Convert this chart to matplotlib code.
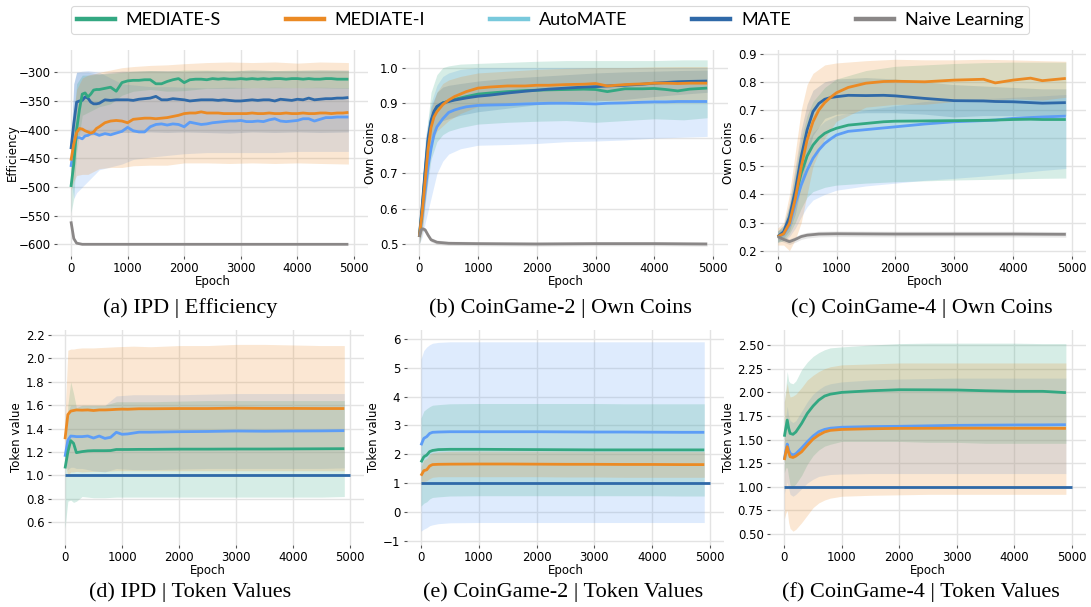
import numpy as np
import matplotlib
matplotlib.use("Agg")
import matplotlib.pyplot as plt
from matplotlib.lines import Line2D

# ---------------- data ----------------
methods = ["MEDIATE-S", "MEDIATE-I", "AutoMATE", "MATE", "Naive Learning"]
x_ticks = [0, 1000, 2000, 3000, 4000, 5000]

# (a) IPD | Efficiency
ep_a = [0, 50, 100, 150, 200, 250, 300, 350, 400, 450, 500, 600, 700, 800, 900, 1000, 1100, 1200, 1300, 1400,
        1500, 1600, 1700, 1800, 1900, 2000, 2100, 2200, 2300, 2400, 2500, 2600, 2700, 2800, 2900, 3000, 3100,
        3200, 3300, 3400, 3500, 3600, 3700, 3800, 3900, 4000, 4100, 4200, 4300, 4400, 4500, 4600, 4700, 4800, 4900]
a_S = [-500, -460, -400, -365, -338, -336, -343, -338, -331, -330, -330, -328, -326, -333, -318, -315, -314, -314,
       -313, -313, -320, -320, -316, -313, -311, -318, -313, -312, -312, -313, -311, -312, -311, -312, -312, -311,
       -312, -311, -312, -311, -312, -311, -311, -312, -311, -311, -312, -311, -312, -312, -311, -311, -312, -312, -312]
a_I = [-454, -425, -405, -398, -399, -402, -404, -406, -404, -398, -395, -388, -385, -384, -385, -388, -382, -381,
       -380, -380, -381, -380, -379, -377, -375, -372, -371, -371, -369, -371, -371, -371, -372, -372, -372, -372,
       -372, -371, -372, -372, -371, -372, -372, -371, -372, -372, -371, -372, -372, -371, -371, -372, -371, -371, -370]
a_Auto = [-465, -430, -414, -414, -416, -411, -410, -407, -406, -408, -410, -407, -409, -406, -403, -396, -402, -404,
          -404, -395, -391, -390, -392, -390, -391, -395, -387, -389, -391, -390, -388, -387, -386, -385, -385, -384,
          -386, -386, -385, -386, -383, -381, -385, -386, -385, -384, -381, -381, -385, -382, -379, -379, -378, -378, -378]
a_MATE = [-434, -390, -352, -350, -349, -343, -345, -352, -355, -355, -354, -348, -349, -348, -348, -348, -349, -347,
          -346, -345, -342, -348, -348, -346, -347, -348, -350, -349, -348, -348, -348, -349, -348, -349, -350, -350,
          -349, -348, -349, -348, -348, -350, -347, -348, -349, -347, -348, -345, -348, -347, -346, -346, -345, -345, -344]
ep_a_naive = [0, 50, 100, 150, 200, 300, 500, 1000, 2000, 3000, 4000, 4900]
a_Naive = [-560, -590, -598, -599, -600, -600, -600, -600, -600, -600, -600, -600]

epb_a = [0, 50, 100, 200, 300, 500, 700, 900, 1100, 1400, 1700, 2000, 2400, 2800, 3200, 3600, 4000, 4400, 4900]
a_S_hi = [-470, -380, -320, -305, -305, -303, -302, -300, -298, -297, -298, -296, -296, -297, -296, -297, -296, -296, -297]
a_S_lo = [-545, -520, -440, -375, -370, -360, -355, -340, -333, -330, -333, -332, -328, -328, -327, -327, -327, -327, -328]
a_I_hi = [-430, -370, -330, -310, -305, -300, -296, -292, -290, -288, -287, -285, -283, -282, -283, -282, -284, -282, -283]
a_I_lo = [-505, -490, -480, -478, -478, -468, -466, -466, -463, -462, -462, -458, -458, -459, -458, -459, -458, -459, -460]
a_Auto_hi = [-440, -320, -300, -298, -297, -300, -310, -320, -322, -325, -325, -326, -327, -326, -327, -326, -327, -326, -327]
a_Auto_lo = [-490, -520, -510, -500, -490, -470, -465, -460, -452, -448, -445, -442, -440, -440, -440, -440, -438, -438, -438]
a_MATE_hi = [-420, -320, -300, -300, -300, -303, -300, -298, -298, -297, -297, -298, -297, -298, -296, -297, -297, -296, -296]
a_MATE_lo = [-450, -420, -410, -410, -410, -408, -405, -405, -405, -404, -405, -404, -405, -406, -404, -405, -404, -405, -404]

# (b) CoinGame-2 | Own Coins
ep_b = [0, 50, 100, 150, 200, 250, 300, 400, 500, 600, 700, 800, 1000, 1200, 1500, 1800, 2000, 2200, 2500, 2800,
        3000, 3200, 3500, 3800, 4000, 4200, 4400, 4600, 4900]
b_S = [0.52, 0.60, 0.70, 0.79, 0.845, 0.872, 0.888, 0.900, 0.905, 0.910, 0.914, 0.918, 0.925, 0.928, 0.932, 0.935,
       0.936, 0.937, 0.938, 0.939, 0.938, 0.932, 0.940, 0.940, 0.941, 0.938, 0.934, 0.939, 0.942]
b_I = [0.52, 0.59, 0.68, 0.77, 0.83, 0.86, 0.875, 0.895, 0.908, 0.918, 0.925, 0.932, 0.942, 0.945, 0.948, 0.948,
       0.950, 0.950, 0.952, 0.953, 0.955, 0.948, 0.952, 0.954, 0.956, 0.956, 0.955, 0.956, 0.956]
b_Auto = [0.52, 0.58, 0.65, 0.72, 0.77, 0.81, 0.832, 0.855, 0.873, 0.880, 0.885, 0.889, 0.893, 0.894, 0.895, 0.897,
          0.898, 0.899, 0.899, 0.898, 0.897, 0.899, 0.900, 0.902, 0.903, 0.903, 0.904, 0.904, 0.904]
b_MATE = [0.52, 0.61, 0.71, 0.80, 0.85, 0.876, 0.890, 0.900, 0.904, 0.908, 0.911, 0.914, 0.919, 0.922, 0.928, 0.933,
          0.936, 0.939, 0.942, 0.945, 0.946, 0.948, 0.950, 0.953, 0.956, 0.958, 0.960, 0.961, 0.962]
ep_b_naive = [0, 30, 60, 100, 150, 200, 300, 500, 1000, 2000, 3000, 4000, 4900]
b_Naive = [0.52, 0.54, 0.543, 0.54, 0.525, 0.512, 0.505, 0.502, 0.501, 0.500, 0.501, 0.501, 0.500]

epb_b = [0, 50, 100, 200, 300, 400, 500, 700, 1000, 1500, 2000, 2500, 3000, 3500, 4000, 4500, 4900]
b_S_hi = [0.54, 0.66, 0.78, 0.93, 0.98, 1.0, 1.005, 1.01, 1.012, 1.015, 1.018, 1.02, 1.02, 1.02, 1.02, 1.022, 1.022]
b_S_lo = [0.50, 0.54, 0.62, 0.74, 0.79, 0.81, 0.82, 0.83, 0.84, 0.845, 0.848, 0.85, 0.845, 0.85, 0.855, 0.852, 0.858]
b_I_hi = [0.54, 0.65, 0.75, 0.88, 0.93, 0.955, 0.965, 0.975, 0.985, 0.99, 0.995, 0.998, 1.0, 1.0, 1.002, 1.003, 1.003]
b_I_lo = [0.50, 0.53, 0.61, 0.78, 0.82, 0.835, 0.85, 0.87, 0.89, 0.90, 0.905, 0.905, 0.908, 0.905, 0.91, 0.908, 0.91]
b_Auto_hi = [0.54, 0.66, 0.80, 0.90, 0.95, 0.975, 0.985, 0.995, 1.0, 1.0, 1.0, 1.0, 1.0, 1.0, 1.0, 1.0, 1.0]
b_Auto_lo = [0.50, 0.52, 0.56, 0.63, 0.70, 0.735, 0.755, 0.770, 0.780, 0.782, 0.785, 0.790, 0.792, 0.795, 0.800, 0.803, 0.805]
b_MATE_hi = [0.54, 0.66, 0.77, 0.89, 0.93, 0.945, 0.95, 0.955, 0.962, 0.97, 0.975, 0.98, 0.985, 0.988, 0.99, 0.992, 0.993]
b_MATE_lo = [0.50, 0.55, 0.64, 0.80, 0.84, 0.85, 0.855, 0.865, 0.875, 0.885, 0.895, 0.90, 0.905, 0.91, 0.918, 0.925, 0.93]

# (c) CoinGame-4 | Own Coins
ep_c = [0, 100, 200, 300, 400, 500, 600, 700, 800, 900, 1000, 1200, 1500, 1800, 2000, 2500, 3000, 3500, 3700, 4000,
        4300, 4500, 4900]
c_S = [0.25, 0.262, 0.309, 0.392, 0.475, 0.536, 0.575, 0.60, 0.617, 0.627, 0.635, 0.646, 0.652, 0.658, 0.660, 0.661,
       0.662, 0.663, 0.664, 0.666, 0.667, 0.666, 0.666]
c_I = [0.25, 0.26, 0.297, 0.386, 0.498, 0.593, 0.658, 0.70, 0.726, 0.745, 0.761, 0.780, 0.795, 0.801, 0.802, 0.800,
       0.806, 0.809, 0.796, 0.806, 0.813, 0.804, 0.812]
c_Auto = [0.25, 0.258, 0.291, 0.368, 0.433, 0.486, 0.528, 0.558, 0.581, 0.597, 0.611, 0.624, 0.630, 0.636, 0.640,
          0.650, 0.658, 0.662, 0.664, 0.670, 0.673, 0.675, 0.678]
c_MATE = [0.25, 0.267, 0.32, 0.415, 0.534, 0.629, 0.694, 0.723, 0.738, 0.744, 0.747, 0.752, 0.751, 0.752, 0.750,
          0.741, 0.733, 0.732, 0.730, 0.729, 0.726, 0.724, 0.726]
ep_c_naive = [0, 100, 200, 300, 400, 500, 700, 1000, 2000, 3000, 4000, 4900]
c_Naive = [0.25, 0.24, 0.232, 0.24, 0.25, 0.255, 0.259, 0.26, 0.259, 0.259, 0.259, 0.258]

epb_c = [0, 100, 200, 300, 400, 500, 600, 800, 1000, 1500, 2000, 2500, 3000, 3500, 4000, 4500, 4900]
c_S_hi = [0.27, 0.29, 0.36, 0.48, 0.60, 0.68, 0.73, 0.78, 0.81, 0.84, 0.855, 0.86, 0.865, 0.868, 0.87, 0.87, 0.87]
c_S_lo = [0.23, 0.235, 0.26, 0.30, 0.35, 0.39, 0.41, 0.425, 0.433, 0.44, 0.445, 0.448, 0.451, 0.453, 0.455, 0.457, 0.458]
c_I_hi = [0.28, 0.30, 0.40, 0.55, 0.70, 0.79, 0.83, 0.86, 0.867, 0.875, 0.880, 0.878, 0.878, 0.880, 0.878, 0.875, 0.873]
c_I_lo = [0.22, 0.22, 0.20, 0.24, 0.30, 0.40, 0.50, 0.60, 0.66, 0.71, 0.72, 0.72, 0.73, 0.73, 0.74, 0.735, 0.745]
c_Auto_hi = [0.27, 0.28, 0.33, 0.43, 0.52, 0.58, 0.62, 0.66, 0.68, 0.70, 0.715, 0.73, 0.735, 0.74, 0.745, 0.75, 0.755]
c_Auto_lo = [0.23, 0.235, 0.25, 0.28, 0.32, 0.356, 0.38, 0.40, 0.415, 0.43, 0.44, 0.45, 0.457, 0.465, 0.475, 0.485, 0.492]
c_MATE_hi = [0.27, 0.29, 0.37, 0.50, 0.63, 0.72, 0.77, 0.80, 0.81, 0.815, 0.81, 0.80, 0.79, 0.785, 0.78, 0.775, 0.775]
c_MATE_lo = [0.23, 0.245, 0.27, 0.33, 0.43, 0.53, 0.61, 0.67, 0.685, 0.69, 0.69, 0.685, 0.675, 0.68, 0.68, 0.675, 0.68]

# (d) IPD | Token Values
ep_d = [0, 50, 100, 150, 200, 300, 400, 500, 600, 700, 800, 900, 1000, 1100, 1300, 1500, 2000, 2500, 3000, 3500,
        4000, 4500, 4900]
d_S = [1.06, 1.20, 1.298, 1.275, 1.195, 1.204, 1.210, 1.212, 1.212, 1.212, 1.213, 1.222, 1.222, 1.222, 1.223, 1.223,
       1.225, 1.225, 1.226, 1.226, 1.227, 1.228, 1.229]
d_I = [1.31, 1.52, 1.55, 1.555, 1.56, 1.558, 1.56, 1.555, 1.56, 1.56, 1.562, 1.565, 1.567, 1.566, 1.57, 1.57, 1.572,
       1.572, 1.575, 1.573, 1.573, 1.572, 1.572]
d_Auto = [1.16, 1.30, 1.337, 1.335, 1.332, 1.332, 1.337, 1.32, 1.337, 1.317, 1.326, 1.369, 1.352, 1.355, 1.37, 1.37,
          1.374, 1.376, 1.38, 1.378, 1.38, 1.381, 1.383]
ep_mate_tok = [0, 5000]
mate_tok = [1.0, 1.0]

epb_d = [0, 50, 100, 150, 200, 300, 500, 700, 900, 1200, 1500, 2000, 2500, 3000, 3500, 4000, 4500, 4900]
d_S_hi = [1.1, 1.6, 1.80, 1.70, 1.58, 1.60, 1.60, 1.60, 1.63, 1.63, 1.63, 1.635, 1.64, 1.64, 1.64, 1.64, 1.64, 1.64]
d_S_lo = [0.55, 0.78, 0.79, 0.77, 0.78, 0.82, 0.81, 0.81, 0.815, 0.815, 0.815, 0.815, 0.815, 0.815, 0.815, 0.815, 0.815, 0.82]
d_I_hi = [1.5, 2.07, 2.08, 2.08, 2.085, 2.09, 2.09, 2.095, 2.10, 2.105, 2.10, 2.11, 2.11, 2.12, 2.12, 2.115, 2.11, 2.11]
d_I_lo = [1.10, 1.0, 1.03, 1.03, 1.035, 1.03, 1.035, 1.035, 1.04, 1.04, 1.04, 1.04, 1.04, 1.04, 1.04, 1.04, 1.04, 1.04]
d_Auto_hi = [1.2, 1.55, 1.60, 1.60, 1.60, 1.60, 1.60, 1.60, 1.68, 1.69, 1.69, 1.69, 1.695, 1.70, 1.70, 1.70, 1.70, 1.70]
d_Auto_lo = [1.1, 1.05, 1.07, 1.07, 1.06, 1.06, 1.04, 1.03, 1.06, 1.05, 1.05, 1.055, 1.06, 1.06, 1.06, 1.06, 1.06, 1.065]

# (e) CoinGame-2 | Token Values
ep_e = [0, 50, 100, 150, 200, 300, 500, 1000, 1500, 2000, 2500, 3000, 3500, 4000, 4500, 4900]
e_S = [1.72, 1.91, 1.97, 2.09, 2.13, 2.16, 2.17, 2.17, 2.165, 2.16, 2.155, 2.15, 2.15, 2.15, 2.15, 2.15]
e_I = [1.255, 1.43, 1.46, 1.59, 1.64, 1.65, 1.655, 1.66, 1.66, 1.655, 1.65, 1.65, 1.645, 1.645, 1.64, 1.64]
e_Auto = [2.31, 2.55, 2.61, 2.72, 2.76, 2.77, 2.78, 2.78, 2.78, 2.78, 2.775, 2.77, 2.77, 2.765, 2.76, 2.76]
e_S_hi = [3.25, 3.5, 3.58, 3.65, 3.7, 3.72, 3.75, 3.76, 3.76, 3.76, 3.76, 3.76, 3.75, 3.75, 3.75, 3.75]
e_S_lo = [0.2, 0.3, 0.35, 0.45, 0.5, 0.52, 0.55, 0.56, 0.56, 0.56, 0.56, 0.56, 0.56, 0.56, 0.55, 0.55]
e_I_hi = [1.55, 1.8, 1.85, 2.0, 2.05, 2.08, 2.1, 2.11, 2.11, 2.11, 2.11, 2.1, 2.1, 2.1, 2.1, 2.1]
e_I_lo = [0.95, 1.05, 1.08, 1.15, 1.2, 1.22, 1.22, 1.22, 1.22, 1.22, 1.21, 1.21, 1.2, 1.2, 1.2, 1.2]
e_Auto_hi = [5.3, 5.6, 5.72, 5.8, 5.85, 5.88, 5.9, 5.9, 5.9, 5.9, 5.9, 5.9, 5.9, 5.9, 5.9, 5.9]
e_Auto_lo = [-0.67, -0.6, -0.55, -0.48, -0.45, -0.41, -0.38, -0.37, -0.37, -0.37, -0.37, -0.37, -0.37, -0.37, -0.37, -0.37]

# (f) CoinGame-4 | Token Values
ep_f = [0, 25, 50, 75, 100, 150, 200, 300, 400, 500, 600, 700, 800, 1000, 1500, 2000, 2500, 3000, 3500, 4000, 4500, 4900]
f_S = [1.53, 1.62, 1.706, 1.62, 1.565, 1.555, 1.58, 1.67, 1.777, 1.855, 1.918, 1.96, 1.98, 1.999, 2.016, 2.027,
       2.026, 2.024, 2.016, 2.01, 2.01, 1.996]
f_I = [1.283, 1.36, 1.424, 1.36, 1.318, 1.31, 1.325, 1.37, 1.44, 1.505, 1.548, 1.58, 1.597, 1.607, 1.614, 1.618,
       1.619, 1.62, 1.62, 1.619, 1.619, 1.618]
f_Auto = [1.29, 1.38, 1.452, 1.39, 1.354, 1.336, 1.35, 1.41, 1.477, 1.537, 1.583, 1.607, 1.62, 1.63, 1.637, 1.64,
          1.645, 1.65, 1.652, 1.654, 1.655, 1.657]
f_S_hi = [1.9, 2.05, 2.22, 2.12, 2.10, 2.09, 2.12, 2.24, 2.32, 2.38, 2.42, 2.45, 2.47, 2.48, 2.5, 2.515, 2.52, 2.52,
          2.52, 2.52, 2.515, 2.515]
f_S_lo = [1.15, 1.2, 1.2, 1.1, 1.02, 1.0, 1.03, 1.12, 1.24, 1.33, 1.39, 1.43, 1.45, 1.48, 1.48, 1.48, 1.47, 1.47,
          1.46, 1.46, 1.46, 1.46]
f_I_hi = [1.9, 2.0, 2.1, 2.0, 1.95, 1.96, 1.98, 2.05, 2.13, 2.18, 2.22, 2.25, 2.27, 2.29, 2.30, 2.31, 2.31, 2.31,
          2.31, 2.31, 2.31, 2.31]
f_I_lo = [0.66, 0.72, 0.75, 0.62, 0.56, 0.53, 0.55, 0.62, 0.70, 0.78, 0.83, 0.86, 0.88, 0.9, 0.91, 0.915, 0.92, 0.92,
          0.92, 0.92, 0.92, 0.92]
f_Auto_hi = [1.65, 1.75, 1.85, 1.75, 1.7, 1.68, 1.7, 1.8, 1.9, 1.98, 2.03, 2.07, 2.09, 2.11, 2.13, 2.14, 2.145, 2.15,
             2.15, 2.15, 2.15, 2.15]
f_Auto_lo = [0.93, 1.0, 1.05, 0.98, 0.92, 0.9, 0.92, 0.98, 1.04, 1.08, 1.11, 1.12, 1.13, 1.135, 1.14, 1.14, 1.14,
             1.14, 1.14, 1.14, 1.14, 1.14]

captions = ["(a) IPD | Efficiency", "(b) CoinGame-2 | Own Coins", "(c) CoinGame-4 | Own Coins",
            "(d) IPD | Token Values", "(e) CoinGame-2 | Token Values", "(f) CoinGame-4 | Token Values"]
ylabels = ["Efficiency", "Own Coins", "Own Coins", "Token value", "Token value", "Token value"]

# ---------------- style ----------------
C_S = "#33a882"
C_I = "#eb8a24"
C_AUTO_LINE = "#5d9df6"
C_AUTO_LEG = "#78c9dc"
C_MATE = "#2f69a8"
C_NAIVE = "#8a8787"
ALPHA = 0.2

W, H = 1091, 607
fig = plt.figure(figsize=(W / 100, H / 100), dpi=100)

def add_ax(l, r, t, b):
    return fig.add_axes([l / W, 1 - b / H, (r - l) / W, (b - t) / H])

def style(ax, ylim, yticks, ylabel, ypad=2):
    ax.set_xlim(-250, 5250)
    ax.set_ylim(*ylim)
    ax.set_xticks(x_ticks)
    ax.set_yticks(yticks)
    for s in ax.spines.values():
        s.set_visible(False)
    ax.grid(True, color="#e3e3e3", lw=1.0)
    ax.set_axisbelow(True)
    ax.tick_params(labelsize=8.5, length=2.5, width=0.8, color="#555555", pad=2)
    ax.set_xlabel("Epoch", fontsize=8.5, labelpad=0)
    ax.set_ylabel(ylabel, fontsize=8.5, labelpad=ypad)

def band(ax, x, lo, hi, c):
    ax.fill_between(x, lo, hi, color=c, alpha=ALPHA, lw=0)

def line(ax, x, y, c):
    ax.plot(x, y, color=c, lw=2.0, solid_capstyle="butt")

row1 = (50, 256)
row2 = (330, 545)

# (a)
ax = add_ax(56.8, 368.2, *row1)
band(ax, epb_a, a_Auto_lo, a_Auto_hi, C_AUTO_LINE)
band(ax, epb_a, a_MATE_lo, a_MATE_hi, C_MATE)
band(ax, epb_a, a_S_lo, a_S_hi, C_S)
band(ax, epb_a, a_I_lo, a_I_hi, C_I)
line(ax, ep_a, a_Auto, C_AUTO_LINE)
line(ax, ep_a, a_MATE, C_MATE)
line(ax, ep_a, a_S, C_S)
line(ax, ep_a, a_I, C_I)
line(ax, ep_a_naive, a_Naive, C_NAIVE)
style(ax, (-620.4, -261.1), [-600, -550, -500, -450, -400, -350, -300], ylabels[0], ypad=0)

# (b)
ax = add_ax(404.6, 727.7, *row1)
band(ax, epb_b, b_Auto_lo, b_Auto_hi, C_AUTO_LINE)
band(ax, epb_b, b_MATE_lo, b_MATE_hi, C_MATE)
band(ax, epb_b, b_S_lo, b_S_hi, C_S)
band(ax, epb_b, b_I_lo, b_I_hi, C_I)
band(ax, ep_b_naive, np.array(b_Naive) - 0.006, np.array(b_Naive) + 0.006, C_NAIVE)
line(ax, ep_b, b_Auto, C_AUTO_LINE)
line(ax, ep_b, b_S, C_S)
line(ax, ep_b, b_MATE, C_MATE)
line(ax, ep_b, b_I, C_I)
line(ax, ep_b_naive, b_Naive, C_NAIVE)
style(ax, (0.466, 1.050), [0.5, 0.6, 0.7, 0.8, 0.9, 1.0], ylabels[1])

# (c)
ax = add_ax(763, 1086.4, *row1)
band(ax, epb_c, c_Auto_lo, c_Auto_hi, C_AUTO_LINE)
band(ax, epb_c, c_MATE_lo, c_MATE_hi, C_MATE)
band(ax, epb_c, c_S_lo, c_S_hi, C_S)
band(ax, epb_c, c_I_lo, c_I_hi, C_I)
band(ax, ep_c_naive, np.array(c_Naive) - 0.01, np.array(c_Naive) + 0.01, C_NAIVE)
line(ax, ep_c, c_Auto, C_AUTO_LINE)
line(ax, ep_c, c_S, C_S)
line(ax, ep_c, c_MATE, C_MATE)
line(ax, ep_c, c_I, C_I)
line(ax, ep_c_naive, c_Naive, C_NAIVE)
style(ax, (0.181, 0.913), [0.2, 0.3, 0.4, 0.5, 0.6, 0.7, 0.8, 0.9], ylabels[2])

# (d)
ax = add_ax(50.75, 364.25, *row2)
band(ax, epb_d, d_Auto_lo, d_Auto_hi, C_AUTO_LINE)
band(ax, epb_d, d_S_lo, d_S_hi, C_S)
band(ax, epb_d, d_I_lo, d_I_hi, C_I)
line(ax, ep_d, d_Auto, C_AUTO_LINE)
line(ax, ep_d, d_S, C_S)
line(ax, ep_d, d_I, C_I)
line(ax, ep_mate_tok, mate_tok, C_MATE)
style(ax, (0.406, 2.243), [0.6, 0.8, 1.0, 1.2, 1.4, 1.6, 1.8, 2.0, 2.2], ylabels[3])
ax.yaxis.set_major_formatter(matplotlib.ticker.FormatStrFormatter("%.1f"))

# (e)
ax = add_ax(406.5, 724.5, *row2)
band(ax, ep_e, e_Auto_lo, e_Auto_hi, C_AUTO_LINE)
band(ax, ep_e, e_S_lo, e_S_hi, C_S)
band(ax, ep_e, e_I_lo, e_I_hi, C_I)
line(ax, ep_e, e_Auto, C_AUTO_LINE)
line(ax, ep_e, e_S, C_S)
line(ax, ep_e, e_I, C_I)
line(ax, ep_mate_tok, mate_tok, C_MATE)
style(ax, (-1.15, 6.31), [-1, 0, 1, 2, 3, 4, 5, 6], ylabels[4])

# (f)
ax = add_ax(770, 1086, *row2)
band(ax, ep_f, f_Auto_lo, f_Auto_hi, C_AUTO_LINE)
band(ax, ep_f, f_S_lo, f_S_hi, C_S)
band(ax, ep_f, f_I_lo, f_I_hi, C_I)
line(ax, ep_f, f_Auto, C_AUTO_LINE)
line(ax, ep_f, f_S, C_S)
line(ax, ep_f, f_I, C_I)
line(ax, ep_mate_tok, mate_tok, C_MATE)
style(ax, (0.384, 2.659), [0.5, 0.75, 1.0, 1.25, 1.5, 1.75, 2.0, 2.25, 2.5], ylabels[5])
ax.yaxis.set_major_formatter(matplotlib.ticker.FormatStrFormatter("%.2f"))

# captions
cap_pos = [(190, 308), (560, 308), (922, 308), (190, 592), (563, 592), (921, 592)]
for (cx, cy), txt in zip(cap_pos, captions):
    fig.text(cx / W, 1 - cy / H, txt, ha="center", va="center", fontsize=16, family="Liberation Serif")

# legend
leg_colors = [C_S, C_I, C_AUTO_LEG, C_MATE, C_NAIVE]
handles = [Line2D([], [], color=c, lw=3.2) for c in leg_colors]
leg = fig.legend(handles, methods, loc="center", bbox_to_anchor=(550 / W, 1 - 20 / H), ncol=5,
                 prop={"family": "Lato", "size": 13}, frameon=True, fancybox=True,
                 handlelength=2.1, handletextpad=0.6, columnspacing=3.6, borderpad=0.35)
leg.get_frame().set_edgecolor("#d0d0d0")
leg.get_frame().set_linewidth(0.8)

fig.savefig("out.png", dpi=100)
